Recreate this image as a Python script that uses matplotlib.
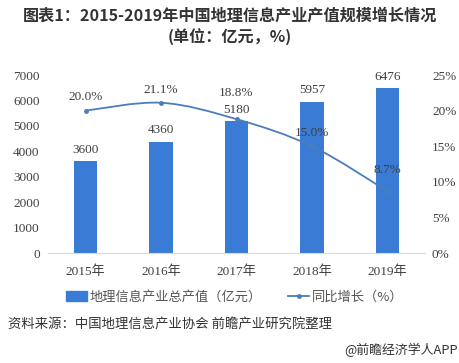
import numpy as np
import matplotlib
matplotlib.use("Agg")
import matplotlib.pyplot as plt
from matplotlib.path import Path
from matplotlib.patches import PathPatch
from matplotlib.lines import Line2D
from matplotlib.patches import Patch

plt.rcParams['font.family'] = ['Noto Sans CJK SC', 'DejaVu Sans']

# 数据
years = ["2015年", "2016年", "2017年", "2018年", "2019年"]
output_value = [3600, 4360, 5180, 5957, 6476]  # 亿元
growth = [20.0, 21.1, 18.8, 15.0, 8.7]         # %
left_ticks = [0, 1000, 2000, 3000, 4000, 5000, 6000, 7000]
right_ticks = [0, 5, 10, 15, 20, 25]

BAR_COLOR = "#3a7bd5"
LINE_COLOR = "#4a7ebb"
TEXT_COLOR = "#404040"
SERIF = ['Liberation Serif', 'Noto Sans CJK SC']

fig = plt.figure(figsize=(4.6, 3.63), dpi=100)
ax = fig.add_axes([48 / 460, 1 - 253 / 363, (425 - 48) / 460, (253 - 75) / 363])
ax2 = ax.twinx()

x = np.arange(len(years))
ax.bar(x, output_value, width=0.31, color=BAR_COLOR, zorder=2)
for xi, v in zip(x, output_value):
    ax.text(xi, v + 460, f"{v}", ha="center", va="center", fontsize=9.5,
            color=TEXT_COLOR, family=SERIF)

ax.set_xlim(-0.5, len(years) - 0.5)
ax.set_ylim(0, 7000)
ax.set_yticks(left_ticks)
ax.set_yticklabels([str(t) for t in left_ticks], family=SERIF, fontsize=9.5, color=TEXT_COLOR)
ax.set_xticks(x)
ax.set_xticklabels(years, family=SERIF, fontsize=9.5, color=TEXT_COLOR)
ax.tick_params(length=0, pad=6)
ax.tick_params(axis="x", pad=9)
for s in ["top", "right", "left"]:
    ax.spines[s].set_visible(False)
ax.spines["bottom"].set_color("#d9d9d9")

# 平滑折线（Catmull-Rom -> 三次贝塞尔）
ax2.set_ylim(0, 25)
pts = np.column_stack([x, growth]).astype(float)
verts = [tuple(pts[0])]
codes = [Path.MOVETO]
for i in range(len(pts) - 1):
    p0 = pts[max(i - 1, 0)]
    p1 = pts[i]
    p2 = pts[i + 1]
    p3 = pts[min(i + 2, len(pts) - 1)]
    c1 = p1 + (p2 - p0) / 6
    c2 = p2 - (p3 - p1) / 6
    verts += [tuple(c1), tuple(c2), tuple(p2)]
    codes += [Path.CURVE4] * 3
ax2.add_patch(PathPatch(Path(verts, codes), fill=False, edgecolor=LINE_COLOR,
                        lw=1.3, zorder=3))
ax2.plot(x, growth, "o", color=LINE_COLOR, ms=2.5, zorder=4)

# 标签偏移（百分点）
label_dy = [1.9, 1.8, 3.7, 1.85, 3.0]
for xi, g, dy in zip(x, growth, label_dy):
    ax2.text(xi, g + dy, f"{g:.1f}%", ha="center", va="center", fontsize=9.5,
             color=TEXT_COLOR, family=SERIF, zorder=5)

ax2.set_yticks(right_ticks)
ax2.set_yticklabels([f"{t}%" for t in right_ticks], family=SERIF, fontsize=9.5,
                    color=TEXT_COLOR)
ax2.tick_params(length=0, pad=5)
for s in ["top", "right", "left", "bottom"]:
    ax2.spines[s].set_visible(False)

# 标题
fig.text(0.5, 1 - 16 / 363, "图表1：2015-2019年中国地理信息产业产值规模增长情况",
         ha="center", va="center", fontsize=11.6, fontweight="bold", color="#333333")
fig.text(0.5, 1 - 37 / 363, "(单位：亿元，%)", ha="center", va="center",
         fontsize=11.6, fontweight="bold", color="#333333")

# 图例
handles = [Patch(color=BAR_COLOR),
           Line2D([0], [0], color=LINE_COLOR, lw=1.3, marker="o", ms=2.5)]
fig.legend(handles, ["地理信息产业总产值（亿元）", "同比增长（%）"],
           loc="center", bbox_to_anchor=(0.51, 1 - 297 / 363), ncol=2, frameon=False,
           fontsize=9.5, handlelength=1.6, handletextpad=0.2, columnspacing=2.0,
           labelcolor="#555555")

fig.text(8 / 460, 1 - 325 / 363, "资料来源：中国地理信息产业协会 前瞻产业研究院整理",
         ha="left", va="center", fontsize=9.6, color="#333333")
fig.text(458 / 460, 1 - 350 / 363, "@前瞻经济学人APP", ha="right", va="center",
         fontsize=9.3, color="#333333")

fig.savefig("out.png", dpi=100)
